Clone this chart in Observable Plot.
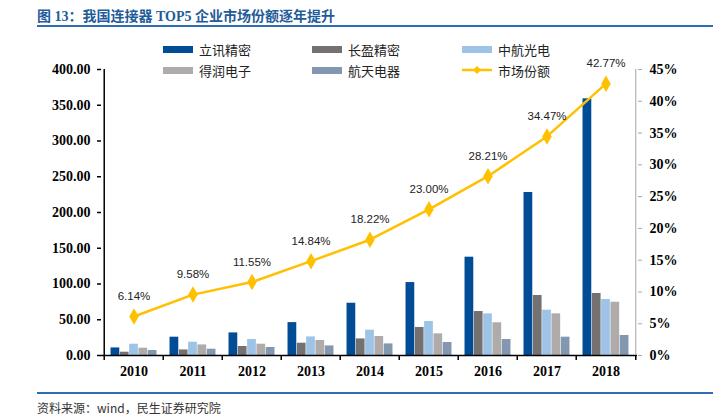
<!DOCTYPE html>
<html>
<head>
<meta charset="utf-8">
<script src="https://cdn.jsdelivr.net/npm/d3@7"></script>
<script src="https://cdn.jsdelivr.net/npm/@observablehq/plot@0.6"></script>
<style>
  body { margin: 0; background: #fff; }
  #wrap { position: relative; width: 727px; height: 417px; overflow: hidden; font-family: "Liberation Serif", "Noto Sans CJK SC", serif; }
  #title { position: absolute; left: 37px; top: 5px; font-size: 14px; font-weight: bold; color: #1F5C99; white-space: nowrap; font-family: "Liberation Serif", "Noto Sans CJK SC", serif; }
  .hr { position: absolute; left: 37px; width: 676px; height: 2px; background: #2E6DB4; }
  #chart { position: absolute; left: 0; top: 40px; }
  .leg { position: absolute; display: flex; align-items: center; font-size: 13px; color: #222; font-family: "Noto Sans CJK SC", sans-serif; white-space: nowrap; }
  .sw { width: 30px; height: 7px; margin-right: 6px; position: relative; }
  #source { position: absolute; left: 37px; top: 401px; font-size: 12px; line-height: 14px; color: #333; font-family: "Noto Sans CJK SC", sans-serif; }
</style>
</head>
<body>
<div id="wrap">
  <div id="title">图 13：我国连接器 TOP5 企业市场份额逐年提升</div>
  <div class="hr" style="top:25px"></div>
  <div id="chart"></div>
  <div id="legend"></div>
  <div class="hr" style="top:392px"></div>
  <div id="source">资料来源：wind，民生证券研究院</div>
</div>
<script>
const years = ["2010","2011","2012","2013","2014","2015","2016","2017","2018"];
const seriesNames = ["立讯精密","长盈精密","中航光电","得润电子","航天电器"];
const seriesColors = ["#004C97","#767171","#9DC3E6","#AFABAB","#8497B0"];
const luxshare = [10.6, 25.6, 31.6, 46.0, 73.1, 102.0, 137.5, 228.0, 359.0];
const everwin  = [4.6, 7.8, 12.6, 17.2, 23.2, 39.2, 61.5, 83.9, 86.7];
const avic     = [15.8, 18.6, 22.4, 26.0, 35.4, 47.6, 58.2, 63.4, 78.3];
const deren    = [10.2, 14.8, 15.8, 21.0, 26.6, 30.3, 45.8, 58.3, 74.5];
const aerospace= [7.0, 8.8, 11.2, 13.4, 16.2, 18.2, 22.4, 25.6, 28.0];
const share    = [6.14, 9.58, 11.55, 14.84, 18.22, 23.00, 28.21, 34.47, 42.77];
const leftTicks = [0, 50, 100, 150, 200, 250, 300, 350, 400];
const rightTicks = [0, 5, 10, 15, 20, 25, 30, 35, 40, 45];
const lineName = "市场份额";

const seriesValues = [luxshare, everwin, avic, deren, aerospace];
const W = 727, H = 340, mL = 101, mR = 90, mT = 29, mB = 25;
const bw = (W - mL - mR) / years.length;
const barW = 9.3, groupPad = (bw - barW * seriesNames.length) / 2;
const yMax = 400, pMax = 45;
const toY = p => p * yMax / pMax;

const barMarks = seriesNames.map((name, k) => {
  const data = years.map((y, i) => ({year: y, value: seriesValues[k][i]}));
  return Plot.rectY(data, {
    x: "year", y: "value", fill: seriesColors[k],
    insetLeft: groupPad + k * barW,
    insetRight: bw - groupPad - (k + 1) * barW
  });
});

const shareData = years.map((y, i) => ({year: y, share: share[i]}));

const serif = "Liberation Serif, Times New Roman, serif";

const plot = Plot.plot({
  width: W, height: H,
  marginLeft: mL, marginRight: mR, marginTop: mT, marginBottom: mB,
  x: {type: "band", domain: years, padding: 0, axis: null},
  y: {domain: [0, yMax], axis: null},
  style: {background: "transparent", overflow: "visible"},
  marks: [
    ...barMarks,
    Plot.ruleY([0], {stroke: "#000", strokeWidth: 1.5}),
    Plot.ruleX(years, {x: d => d, dx: -bw / 2, y1: 0, y2: -7, stroke: "#000", strokeWidth: 1.5}),
    Plot.ruleX([years[years.length - 1]], {x: d => d, dx: bw / 2, y1: 0, y2: -7, stroke: "#000", strokeWidth: 1.5}),
    Plot.ruleX([years[0]], {x: d => d, dx: -bw / 2, y1: 0, y2: yMax, stroke: "#000", strokeWidth: 1.5}),
    Plot.ruleX([years[years.length - 1]], {x: d => d, dx: bw / 2, y1: 0, y2: yMax, stroke: "#A6A6A6", strokeWidth: 1}),
    Plot.axisX({anchor: "bottom", label: null, tickSize: 0, tickPadding: 11, fontSize: 14, fontWeight: "bold", fontFamily: serif, fill: "#000"}),
    Plot.axisY({anchor: "left", label: null, ticks: leftTicks, tickSize: 4, tickPadding: 7, tickFormat: d => d.toFixed(2),
      fontSize: 14, fontWeight: "bold", fontFamily: serif, fill: "#000", stroke: "#000", strokeWidth: 1.5}),
    Plot.axisY({anchor: "right", label: null, ticks: rightTicks.map(toY), tickSize: 4, tickPadding: 8,
      tickFormat: d => Math.round(d * pMax / yMax) + "%",
      fontSize: 14, fontWeight: "bold", fontFamily: serif, fill: "#000", stroke: "#A6A6A6"}),
    Plot.line(shareData, {x: "year", y: d => toY(d.share), stroke: "#FFC000", strokeWidth: 2.5}),
    Plot.dot(shareData, {x: "year", y: d => toY(d.share), symbol: "diamond", r: 5, fill: "#FFC000", stroke: "none"}),
    Plot.text(shareData, {x: "year", y: d => toY(d.share), text: d => d.share.toFixed(2) + "%", dy: -20,
      fontSize: 11.5, fontFamily: "Liberation Sans, Arial, sans-serif", fill: "#222"})
  ]
});
document.getElementById("chart").appendChild(plot);

const legend = document.getElementById("legend");
const legItems = seriesNames.map((n, k) => ({name: n, color: seriesColors[k], line: false}))
  .concat([{name: lineName, color: "#FFC000", line: true}]);
const colX = [163, 312, 462], rowY = [49, 70];
legItems.forEach((it, i) => {
  const el = document.createElement("div");
  el.className = "leg";
  el.style.left = colX[i % 3] + "px";
  el.style.top = (rowY[Math.floor(i / 3)] - 9) + "px";
  el.style.height = "18px";
  const sw = document.createElement("div");
  sw.className = "sw";
  if (it.line) {
    sw.style.height = "18px";
    sw.innerHTML = `<svg width="30" height="18"><line x1="0" y1="9" x2="30" y2="9" stroke="${it.color}" stroke-width="2.5"/><path d="M15,5 L19,9 L15,13 L11,9 Z" fill="${it.color}"/></svg>`;
  } else {
    sw.style.background = it.color;
  }
  el.appendChild(sw);
  const t = document.createElement("span");
  t.textContent = it.name;
  el.appendChild(t);
  legend.appendChild(el);
});
</script>
</body>
</html>
